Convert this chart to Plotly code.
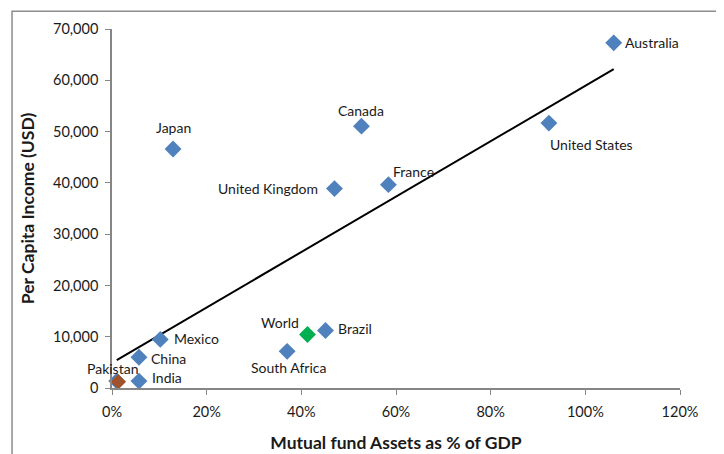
import numpy as np
import plotly.graph_objects as go

countries = ["Australia", "United States", "Canada", "France", "United Kingdom", "Japan",
             "Brazil", "South Africa", "Mexico", "China", "India", "Pakistan"]
assets_pct = [1.060, 0.923, 0.527, 0.584, 0.470, 0.129, 0.451, 0.370, 0.102, 0.057, 0.057, 0.010]
income_usd = [67300, 51650, 51060, 39650, 38880, 46600, 11200, 7150, 9480, 6000, 1350, 1350]

world_x = [0.413]
world_y = [10440]
pak_brown_x = [0.0133]
pak_brown_y = [1220]

x_ticks = [0, 0.2, 0.4, 0.6, 0.8, 1.0, 1.2]
y_ticks = [0, 10000, 20000, 30000, 40000, 50000, 60000, 70000]

# label placement (pixel offsets from marker): xanchor, xshift, yshift
label_style = {
    "Australia": ("left", 9, 0),
    "United States": ("left", -1, -21),
    "Canada": ("center", 0, 16),
    "France": ("left", 3, 13),
    "United Kingdom": ("right", -14, 0),
    "Japan": ("center", 0, 22),
    "Brazil": ("left", 11, 2),
    "South Africa": ("center", 1, -16),
    "Mexico": ("left", 12, 1),
    "China": ("left", 10, -1),
    "India": ("left", 11, 4),
    "Pakistan": ("center", -4, 13),
}

FONT = "Lato"
BLUE = "#4F81BD"
TXT = "#1a1a1a"

fig = go.Figure()

# trendline: linear least-squares fit over the country points plus World
fit_x = np.array(assets_pct + world_x)
fit_y = np.array(income_usd + world_y)
slope, intercept = np.polyfit(fit_x, fit_y, 1)
tx = np.array([fit_x.min(), fit_x.max()])
fig.add_trace(go.Scatter(x=tx, y=slope * tx + intercept, mode="lines",
                         line=dict(color="black", width=2), hoverinfo="skip", showlegend=False))

fig.add_trace(go.Scatter(
    x=assets_pct, y=income_usd, mode="markers",
    marker=dict(symbol="diamond", size=13, color=BLUE), showlegend=False, cliponaxis=False))

fig.add_trace(go.Scatter(
    x=world_x, y=world_y, mode="markers",
    marker=dict(symbol="diamond", size=13, color="#00B050"), showlegend=False))

fig.add_trace(go.Scatter(
    x=pak_brown_x, y=pak_brown_y, mode="markers",
    marker=dict(symbol="diamond", size=12, color="#A0522D"), showlegend=False, cliponaxis=False))

for name, xv, yv in zip(countries, assets_pct, income_usd):
    xa, xs, ys = label_style[name]
    fig.add_annotation(x=xv, y=yv, text=name, showarrow=False, xanchor=xa, yanchor="middle",
                       xshift=xs, yshift=ys, font=dict(family=FONT, size=14, color=TXT))
fig.add_annotation(x=world_x[0], y=world_y[0], text="World", showarrow=False, xanchor="right",
                   yanchor="middle", xshift=-6, yshift=12, font=dict(family=FONT, size=14, color=TXT))

fig.add_shape(type="rect", xref="paper", yref="paper", x0=-0.176, x1=1.074, y0=-0.4, y1=1.0497,
              line=dict(color="#8C8C8C", width=1.5), fillcolor="rgba(0,0,0,0)", layer="below")

fig.update_layout(
    width=724, height=454,
    margin=dict(l=104, r=52, t=18, b=74),
    plot_bgcolor="white", paper_bgcolor="white",
    font=dict(family=FONT, size=14.5, color=TXT),
    xaxis=dict(range=[0, 1.2], tickvals=x_ticks, tickformat=".0%", showgrid=False, zeroline=False,
               showline=True, linecolor="#868686", linewidth=1.5, ticks="outside", ticklen=5,
               tickcolor="#868686", ticklabelstandoff=5,
               title=dict(text="<b>Mutual fund Assets as % of GDP</b>", font=dict(size=17.5), standoff=18)),
    yaxis=dict(range=[0, 70000], tickvals=y_ticks, tickformat=",d", showgrid=False, zeroline=False,
               showline=True, linecolor="#868686", linewidth=1.5, ticks="outside", ticklen=5,
               tickcolor="#868686", ticklabelstandoff=4,
               title=dict(text="<b>Per Capita Income (USD)</b>", font=dict(size=17.5), standoff=14)),
)

fig.write_html("out.html")
